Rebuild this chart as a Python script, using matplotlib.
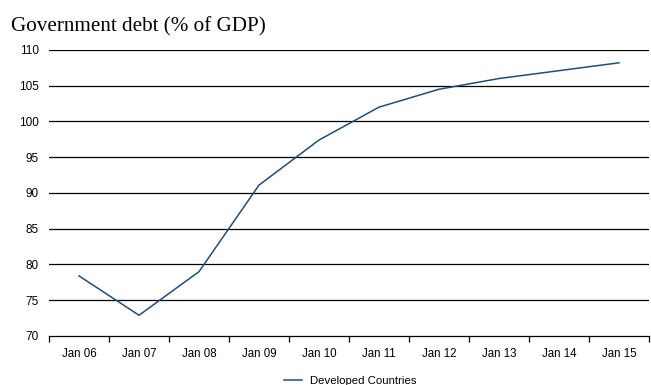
import numpy as np
import matplotlib
matplotlib.use("Agg")
import matplotlib.pyplot as plt

labels = ['Jan 06', 'Jan 07', 'Jan 08', 'Jan 09', 'Jan 10',
          'Jan 11', 'Jan 12', 'Jan 13', 'Jan 14', 'Jan 15']
debt = [78.4, 72.9, 79.0, 91.1, 97.4, 102.0, 104.5, 106.0, 107.1, 108.2]
yticks = [70, 75, 80, 85, 90, 95, 100, 105, 110]

fig = plt.figure(figsize=(6.51, 3.85), dpi=100)
ax = fig.add_axes([0.0753, 0.1273, 0.9216, 0.7430])

x = np.arange(len(labels))
ax.plot(x, debt, color='#1f4e79', lw=1.1, label='Developed Countries')

# grid
for v in yticks[1:]:
    ax.axhline(v, color='black', lw=0.9, zorder=0)

ax.set_xlim(-0.5, len(labels) - 0.5)
ax.set_ylim(70, 110)
ax.set_yticks(yticks)
ax.set_xticks(x)
ax.set_xticklabels(labels)
ax.set_xticks(np.arange(len(labels) + 1) - 0.5, minor=True)

for s in ['top', 'right', 'left']:
    ax.spines[s].set_visible(False)
ax.spines['bottom'].set_color('black')
ax.spines['bottom'].set_linewidth(0.9)

ax.tick_params(axis='x', which='major', length=0, pad=9, labelsize=8.3)
ax.tick_params(axis='x', which='minor', length=4, direction='out', width=0.9)
ax.tick_params(axis='y', length=0, pad=7.5, labelsize=8.5)
for t in ax.get_xticklabels() + ax.get_yticklabels():
    t.set_fontfamily('Liberation Sans')

fig.text(0.017, 0.917, 'Government debt (% of GDP)', fontsize=15.2,
         fontfamily='Liberation Serif', va='baseline', ha='left')

leg = fig.legend(loc='lower center', bbox_to_anchor=(0.538, -0.028), frameon=False,
                 prop={'family': 'Liberation Sans', 'size': 8.2},
                 handlelength=1.5, handletextpad=0.7)

fig.savefig('out.png', dpi=100)
